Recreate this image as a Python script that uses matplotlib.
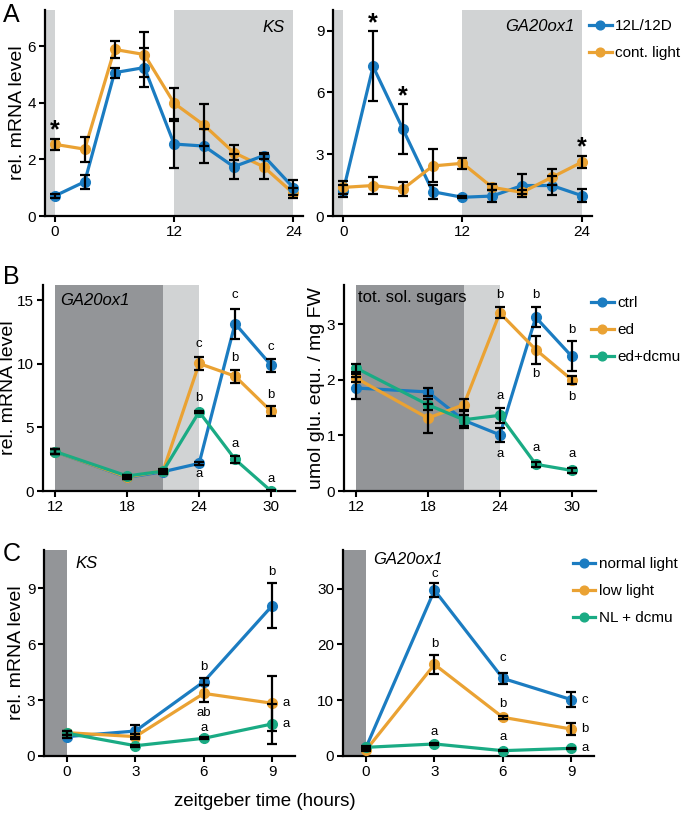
import numpy as np
import matplotlib
matplotlib.use("Agg")
import matplotlib.pyplot as plt

plt.rcParams['font.family'] = ['Liberation Sans', 'DejaVu Sans']

BLUE = '#1b7cc1'
ORANGE = '#eaa233'
GREEN = '#1aab84'
LIGHT = '#d1d3d4'
DARK = '#939598'

# ---- panel A : 12L/12D vs continuous light
a_x = [0, 3, 6, 9, 12, 15, 18, 21, 24]
a_ks_12 = [0.71, 1.21, 5.06, 5.24, 2.54, 2.47, 1.74, 2.13, 1.0]
a_ks_12_err = [0.08, 0.25, 0.18, 0.7, 0.83, 0.6, 0.45, 0.1, 0.27]
a_ks_cl = [2.53, 2.36, 5.88, 5.7, 3.98, 3.21, 2.24, 1.74, 0.8]
a_ks_cl_err = [0.2, 0.44, 0.3, 0.78, 0.55, 0.73, 0.27, 0.45, 0.18]
a_ga_12 = [1.23, 7.26, 4.22, 1.18, 0.91, 0.97, 1.48, 1.48, 0.99]
a_ga_12_err = [0.3, 1.7, 1.2, 0.35, 0.05, 0.27, 0.55, 0.45, 0.33]
a_ga_cl = [1.39, 1.48, 1.31, 2.43, 2.56, 1.39, 1.15, 1.88, 2.61]
a_ga_cl_err = [0.3, 0.4, 0.33, 0.8, 0.28, 0.15, 0.1, 0.38, 0.3]
a_labels = ['12L/12D', 'cont. light']

# ---- panel B : extended dark / dcmu
b_x = [12, 18, 21, 24, 27, 30]
b_ga_ctrl = [3.09, 1.07, 1.52, 2.17, 13.17, 9.9]
b_ga_ctrl_err = [0.2, 0.15, 0.15, 0.1, 1.18, 0.5]
b_ga_ed = [3.1, 1.1, 1.6, 10.03, 9.03, 6.28]
b_ga_ed_err = [0.2, 0.15, 0.15, 0.52, 0.52, 0.38]
b_ga_dcmu = [3.1, 1.18, 1.57, 6.23, 2.49, 0.0]
b_ga_dcmu_err = [0.2, 0.1, 0.1, 0.1, 0.25, 0.05]
b_su_ctrl = [1.85, 1.78, 1.27, 1.01, 3.12, 2.42]
b_su_ctrl_err = [0.2, 0.07, 0.1, 0.13, 0.18, 0.27]
b_su_ed = [2.03, 1.31, 1.55, 3.2, 2.54, 2.0]
b_su_ed_err = [0.07, 0.26, 0.1, 0.1, 0.25, 0.07]
b_su_dcmu = [2.21, 1.55, 1.28, 1.36, 0.48, 0.37]
b_su_dcmu_err = [0.07, 0.1, 0.15, 0.13, 0.05, 0.05]
b_labels = ['ctrl', 'ed', 'ed+dcmu']

# ---- panel C : light intensity
c_x = [0, 3, 6, 9]
c_ks_nl = [1.04, 1.34, 3.99, 8.07]
c_ks_nl_err = [0.1, 0.3, 0.2, 1.2]
c_ks_ll = [1.25, 1.04, 3.36, 2.83]
c_ks_ll_err = [0.1, 0.15, 0.45, 1.47]
c_ks_dc = [1.22, 0.55, 0.95, 1.72]
c_ks_dc_err = [0.1, 0.05, 0.05, 1.07]
c_ga_nl = [1.55, 29.7, 13.9, 10.1]
c_ga_nl_err = [0.3, 1.2, 1.0, 1.3]
c_ga_ll = [1.07, 16.4, 6.92, 4.83]
c_ga_ll_err = [0.2, 1.7, 0.3, 1.0]
c_ga_dc = [1.55, 2.15, 0.95, 1.37]
c_ga_dc_err = [0.1, 0.2, 0.1, 0.1]
c_labels = ['normal light', 'low light', 'NL + dcmu']

TICK_FS = 11
LAB_FS = 14


def style(ax, xlim, ylim, xticks, yticks):
    ax.set_xlim(*xlim)
    ax.set_ylim(*ylim)
    ax.set_xticks(xticks)
    ax.set_yticks(yticks)
    for s in ['top', 'right']:
        ax.spines[s].set_visible(False)
    for s in ['left', 'bottom']:
        ax.spines[s].set_linewidth(1.6)
    ax.tick_params(direction='out', length=4, width=1.5, labelsize=TICK_FS, pad=2.5)


def series(ax, x, y, e, color, label=None):
    ax.plot(x, y, color=color, lw=2.3, marker='o', ms=7, label=label, zorder=3)
    ax.errorbar(x, y, yerr=e, fmt='none', ecolor='black', elinewidth=1.6,
                capsize=3.6, capthick=1.6, zorder=4)


def letters(ax, x, y, txt, dy, ha='center', dx=0):
    ax.annotate(txt, (x, y), xytext=(dx, dy), textcoords='offset points',
                ha=ha, va='center', fontsize=9.5)


def add_legend(ax, x, y):
    ax.legend(loc='upper left', bbox_to_anchor=(x, y), frameon=False,
              fontsize=11, handlelength=1.5, handletextpad=0.2,
              borderaxespad=0, labelspacing=0.85, markerscale=0.9)


fig = plt.figure(figsize=(6.92, 8.17), dpi=100)

# ---------------- A
axA1 = fig.add_axes([0.065, 0.7356, 0.3733, 0.2521])
axA2 = fig.add_axes([0.4817, 0.7356, 0.3733, 0.2521])
for ax in (axA1, axA2):
    ax.axvspan(-1, 0, color=LIGHT, lw=0, zorder=0)
    ax.axvspan(12, 24, color=LIGHT, lw=0, zorder=0)
series(axA1, a_x, a_ks_cl, a_ks_cl_err, ORANGE)
series(axA1, a_x, a_ks_12, a_ks_12_err, BLUE)
series(axA2, a_x, a_ga_12, a_ga_12_err, BLUE, a_labels[0])
series(axA2, a_x, a_ga_cl, a_ga_cl_err, ORANGE, a_labels[1])
style(axA1, (-1, 25), (0, 7.27), [0, 12, 24], [0, 2, 4, 6])
style(axA2, (-1, 25), (0, 10), [0, 12, 24], [0, 3, 6, 9])
axA1.set_ylabel('rel. mRNA level', fontsize=LAB_FS, labelpad=1)
axA1.text(0.929, 0.95, 'KS', transform=axA1.transAxes, ha='right', va='top',
          fontsize=12, style='italic')
axA2.text(0.935, 0.955, 'GA20ox1', transform=axA2.transAxes, ha='right', va='top',
          fontsize=12, style='italic')
star_kw = dict(textcoords='offset points', ha='center', va='center',
               fontsize=18, fontweight='bold')
axA1.annotate('*', (0, a_ks_cl[0] + a_ks_cl_err[0]), xytext=(0, 6), **star_kw)
for i in (1, 2, 8):
    top = max(a_ga_12[i] + a_ga_12_err[i], a_ga_cl[i] + a_ga_cl_err[i])
    axA2.annotate('*', (a_x[i], top), xytext=(0, 6), **star_kw)
add_legend(axA2, 0.966, 0.985)

# ---------------- B
axB1 = fig.add_axes([0.0626, 0.399, 0.3637, 0.2521])
axB2 = fig.add_axes([0.4971, 0.399, 0.3637, 0.2521])
for ax in (axB1, axB2):
    ax.axvspan(12, 21, color=DARK, lw=0, zorder=0)
    ax.axvspan(21, 24, color=LIGHT, lw=0, zorder=0)
series(axB1, b_x, b_ga_ctrl, b_ga_ctrl_err, BLUE)
series(axB1, b_x, b_ga_ed, b_ga_ed_err, ORANGE)
series(axB1, b_x, b_ga_dcmu, b_ga_dcmu_err, GREEN)
series(axB2, b_x, b_su_ctrl, b_su_ctrl_err, BLUE, b_labels[0])
series(axB2, b_x, b_su_ed, b_su_ed_err, ORANGE, b_labels[1])
series(axB2, b_x, b_su_dcmu, b_su_dcmu_err, GREEN, b_labels[2])
style(axB1, (11, 32), (0, 16.2), [12, 18, 24, 30], [0, 5, 10, 15])
style(axB2, (11, 32), (0, 3.7), [12, 18, 24, 30], [0, 1, 2, 3])
axB1.set_ylabel('rel. mRNA level', fontsize=LAB_FS, labelpad=0)
axB2.set_ylabel('umol glu. equ. / mg FW', fontsize=LAB_FS, labelpad=1)
axB1.text(0.066, 0.96, 'GA20ox1', transform=axB1.transAxes, ha='left', va='top',
          fontsize=12, style='italic')
axB2.text(0.055, 0.975, 'tot. sol. sugars', transform=axB2.transAxes, ha='left',
          va='top', fontsize=12)
# significance letters, panel B left
letters(axB1, 24, b_ga_ed[3], 'c', 13.9)
letters(axB1, 24, b_ga_dcmu[3], 'b', 9.6)
letters(axB1, 24, b_ga_ctrl[3], 'a', -7.7)
letters(axB1, 27, b_ga_ctrl[4], 'c', 20.9)
letters(axB1, 27, b_ga_ed[4], 'b', 13.4)
letters(axB1, 27, b_ga_dcmu[4], 'a', 11)
letters(axB1, 30, b_ga_ctrl[5], 'c', 13.2)
letters(axB1, 30, b_ga_ed[5], 'b', 11.5)
letters(axB1, 30, b_ga_dcmu[5], 'a', 8.4)
# panel B right
letters(axB2, 24, b_su_ed[3], 'b', 13.2)
letters(axB2, 24, b_su_dcmu[3], 'a', 14.2)
letters(axB2, 24, b_su_ctrl[3], 'a', -13.7)
letters(axB2, 27, b_su_ctrl[4], 'b', 16.3)
letters(axB2, 27, b_su_ed[4], 'b', -17.5)
letters(axB2, 27, b_su_dcmu[4], 'a', 11.5)
letters(axB2, 30, b_su_ctrl[5], 'b', 18.7)
letters(axB2, 30, b_su_ed[5], 'b', -12.7)
letters(axB2, 30, b_su_dcmu[5], 'a', 11.8)
add_legend(axB2, 0.957, 0.976)

# ---------------- C
axC1 = fig.add_axes([0.064, 0.0747, 0.3623, 0.2521])
axC2 = fig.add_axes([0.4961, 0.0747, 0.3623, 0.2521])
for ax in (axC1, axC2):
    ax.axvspan(-1, 0, color=DARK, lw=0, zorder=0)
series(axC1, c_x, c_ks_nl, c_ks_nl_err, BLUE)
series(axC1, c_x, c_ks_ll, c_ks_ll_err, ORANGE)
series(axC1, c_x, c_ks_dc, c_ks_dc_err, GREEN)
series(axC2, c_x, c_ga_nl, c_ga_nl_err, BLUE, c_labels[0])
series(axC2, c_x, c_ga_ll, c_ga_ll_err, ORANGE, c_labels[1])
series(axC2, c_x, c_ga_dc, c_ga_dc_err, GREEN, c_labels[2])
style(axC1, (-1, 10), (0, 11.06), [0, 3, 6, 9], [0, 3, 6, 9])
style(axC2, (-1, 10), (0, 36.9), [0, 3, 6, 9], [0, 10, 20, 30])
axC1.set_ylabel('rel. mRNA level', fontsize=LAB_FS, labelpad=1)
axC1.text(0.125, 0.97, 'KS', transform=axC1.transAxes, ha='left', va='top',
          fontsize=12, style='italic')
axC2.text(0.12, 0.99, 'GA20ox1', transform=axC2.transAxes, ha='left', va='top',
          fontsize=12, style='italic')
letters(axC1, 6, c_ks_nl[2], 'b', 10.8)
letters(axC1, 6, c_ks_ll[2], 'ab', -13.9)
letters(axC1, 6, c_ks_dc[2], 'a', 7.2)
letters(axC1, 9, c_ks_nl[3], 'b', 24)
letters(axC1, 9, c_ks_ll[3], 'a', 0, ha='left', dx=7.2)
letters(axC1, 9, c_ks_dc[3], 'a', 0, ha='left', dx=7.2)
letters(axC2, 3, c_ga_nl[1], 'c', 11.3)
letters(axC2, 3, c_ga_ll[1], 'b', 14.4)
letters(axC2, 3, c_ga_dc[1], 'a', 8.4)
letters(axC2, 6, c_ga_nl[2], 'c', 14.4)
letters(axC2, 6, c_ga_ll[2], 'b', 9.6)
letters(axC2, 6, c_ga_dc[2], 'a', 9.6)
letters(axC2, 9, c_ga_nl[3], 'c', 0, ha='left', dx=7.2)
letters(axC2, 9, c_ga_ll[3], 'b', 0, ha='left', dx=7.2)
letters(axC2, 9, c_ga_dc[3], 'a', 0, ha='left', dx=7.2)
add_legend(axC2, 0.89, 0.995)

fig.text(0.383, 0.019, 'zeitgeber time (hours)', ha='center', va='center',
         fontsize=13.5)
for lab, y in (('A', 0.982), ('B', 0.661), ('C', 0.322)):
    fig.text(0.004, y, lab, ha='left', va='center', fontsize=18)

fig.savefig('out.png', dpi=100)
